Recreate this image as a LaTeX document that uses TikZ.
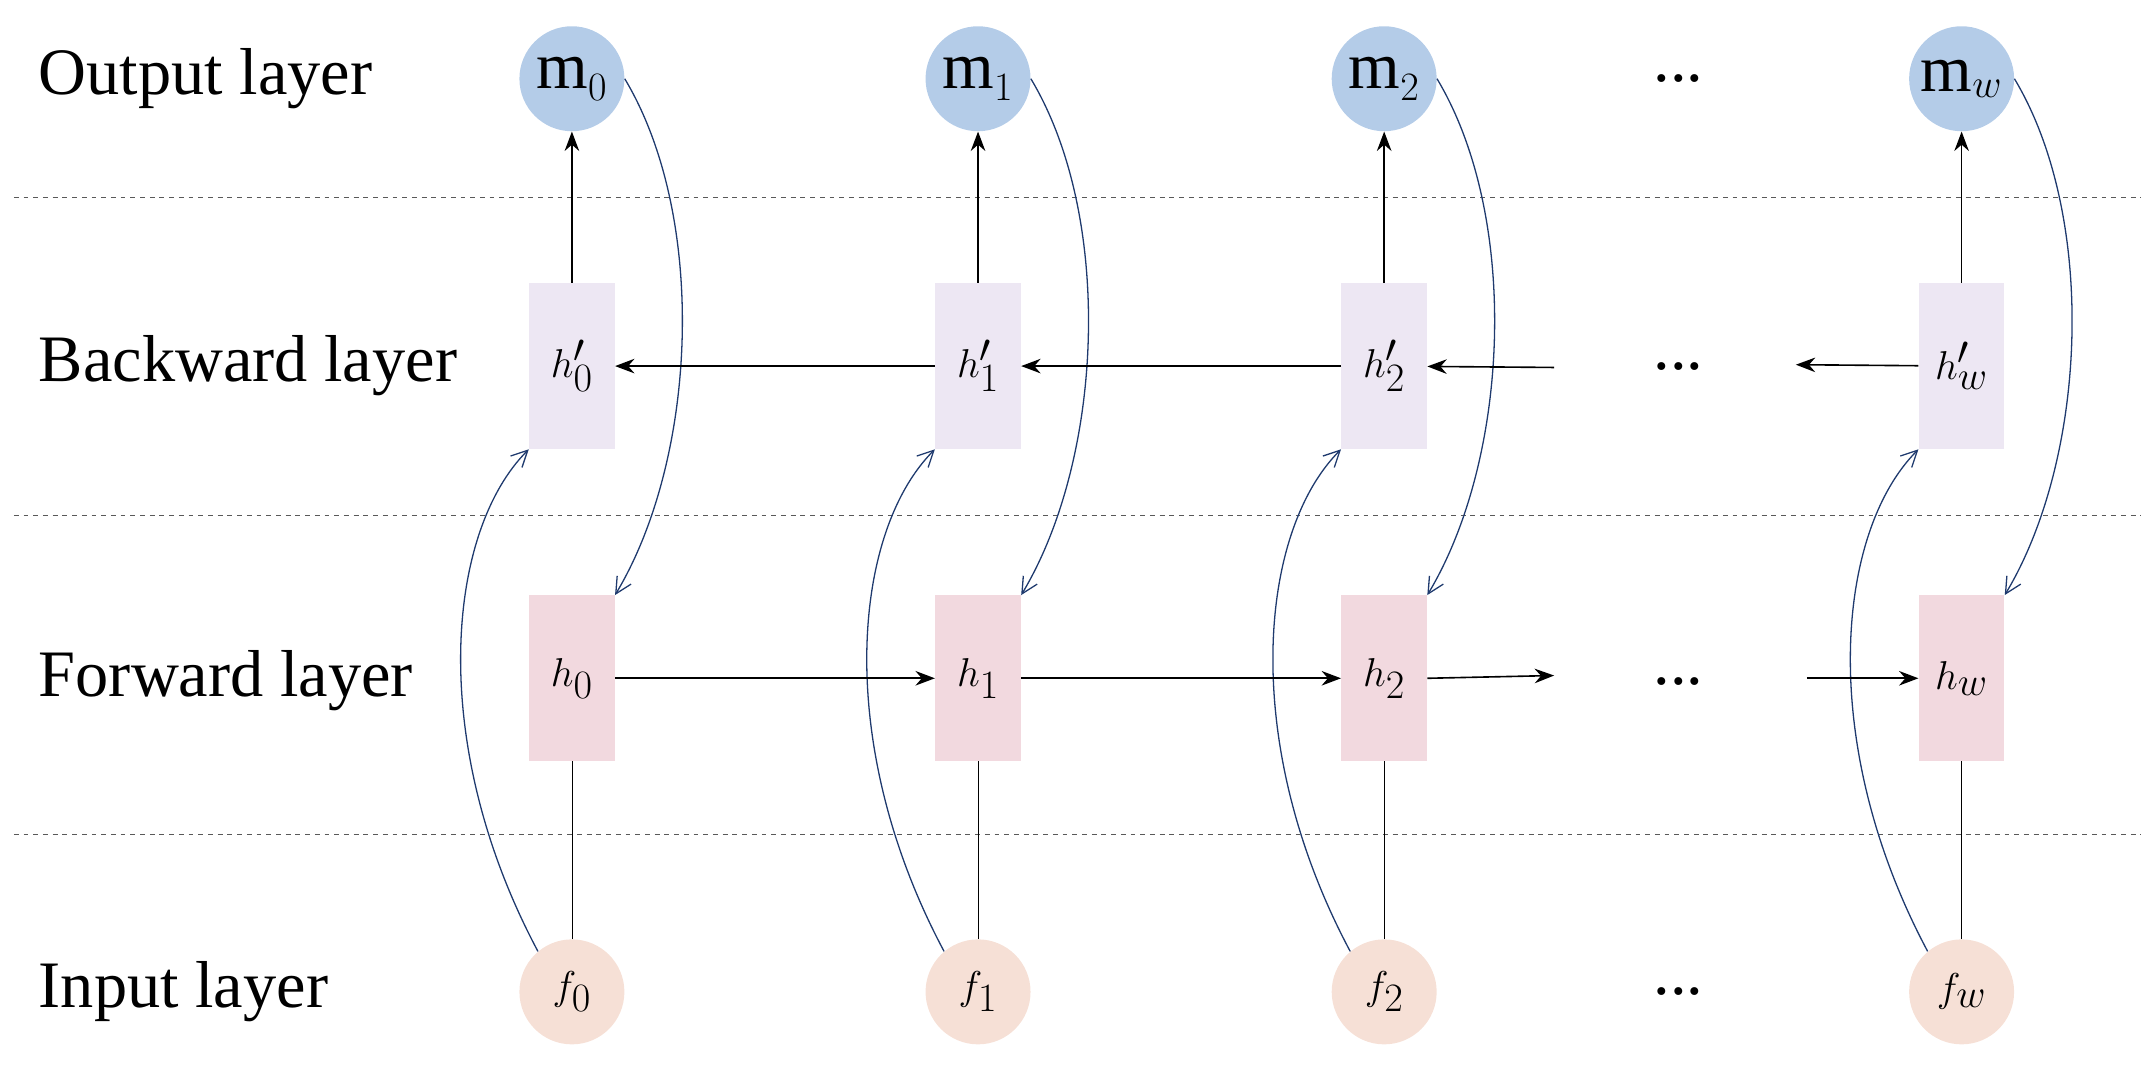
\documentclass[tikz,border=0pt]{standalone}
\usepackage{fontspec}
\setmainfont{Liberation Serif}
\usetikzlibrary{arrows.meta}
\definecolor{mblue}{HTML}{B4CCE8}
\definecolor{bpur}{HTML}{EDE7F3}
\definecolor{fpink}{HTML}{F2D9DF}
\definecolor{fin}{HTML}{F6E0D6}
\definecolor{cblue}{HTML}{1F3A6E}
\begin{document}
\begin{tikzpicture}[x=0.03cm,y=-0.03cm,
  every node/.style={font=\fontsize{41}{46}\selectfont},
  mth/.style={font=\fontsize{48}{52}\selectfont},
  circ/.style={circle,minimum size=76*0.03cm,inner sep=0pt},
  box/.style={minimum width=62*0.03cm,minimum height=120*0.03cm,inner sep=0pt},
  lab/.style={anchor=west},
  arr/.style={-{Stealth[length=12pt,width=9pt]},line width=1pt},
  cur/.style={-{Straight Barb[length=10pt,width=10pt]},cblue,line width=0.8pt},
  dl/.style={dashed,line width=0.8pt,gray!70!black}]
\useasboundingbox (0,0) rectangle (1560,777);
\foreach \y in {143,373,604} \draw[dl] (10,\y) -- (1550,\y);
\node[lab] (l1) at (24,57) {Output layer};
\node[lab] (l2) at (24,265) {Backward layer};
\node[lab] (l3) at (24,493) {Forward layer};
\node[lab] (l4) at (24,718) {Input layer};
\foreach \i/\x/\s in {0/414/0,1/708/1,2/1002/2,w/1420/w} {
  \node[circ,fill=mblue] (m\i) at (\x,57) {m$_{\s}$};
  \node[box,fill=bpur,mth] (b\i) at (\x,265) {$h'_{\s}$};
  \node[box,fill=fpink,mth] (h\i) at (\x,491) {$h_{\s}$};
  \node[circ,fill=fin,mth] (f\i) at (\x,718) {$f_{\s}$};
  \draw (f\i) -- (h\i);
  \draw[arr] (b\i) -- (m\i);
  \draw[cur] (f\i.130) .. controls +(-80,-150) and +(-60,60) .. (b\i.south west);
  \draw[cur] (m\i.east) .. controls +(60,100) and +(60,-100) .. (h\i.north east);
}
\foreach \y/\n in {57/d1,265/d2,493/d3,718/d4} \node (\n) at (1215,\y) {...};
\coordinate (bs) at (1125,266);
\coordinate (be) at (1300,264);
\coordinate (fs) at (1125,489);
\coordinate (fe) at (1308,491);
\draw[arr] (b1) -- (b0);
\draw[arr] (b2) -- (b1);
\draw[arr] (bs) -- (b2);
\draw[arr] (bw) -- (be);
\draw[arr] (h0) -- (h1);
\draw[arr] (h1) -- (h2);
\draw[arr] (h2.east) -- (fs);
\draw[arr] (fe) -- (hw.west);
\end{tikzpicture}
\end{document}
